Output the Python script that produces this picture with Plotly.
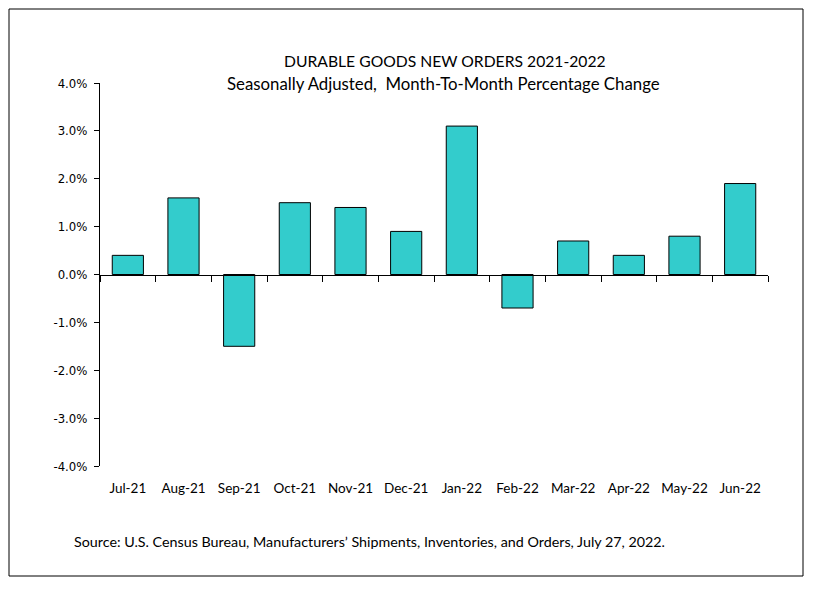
import plotly.graph_objects as go

months = ["Jul-21", "Aug-21", "Sep-21", "Oct-21", "Nov-21", "Dec-21",
          "Jan-22", "Feb-22", "Mar-22", "Apr-22", "May-22", "Jun-22"]
pct_change = [0.4, 1.6, -1.5, 1.5, 1.4, 0.9, 3.1, -0.7, 0.7, 0.4, 0.8, 1.9]
y_ticks = [-4, -3, -2, -1, 0, 1, 2, 3, 4]
y_tick_text = [f"{v:.1f}%" for v in y_ticks]

title1 = "DURABLE GOODS NEW ORDERS 2021-2022"
title2 = "Seasonally Adjusted,&nbsp; Month-To-Month Percentage Change"
source = "Source: U.S. Census Bureau, Manufacturers\u2019 Shipments, Inventories, and Orders, July 27, 2022."

FONT = "Lato"

fig = go.Figure()
fig.add_trace(go.Bar(
    x=months, y=pct_change, width=0.56,
    marker=dict(color="#33CCCC", line=dict(color="black", width=1)),
    hoverinfo="skip", showlegend=False,
))
# invisible trace to carry the zero-line axis
fig.add_trace(go.Scatter(x=months, y=[0]*len(months), xaxis="x2", mode="markers",
                         marker=dict(opacity=0), showlegend=False, hoverinfo="skip"))

L, R, T, B = 100, 46, 83, 124
W, H = 814, 590
pw, ph = W - L - R, H - T - B

fig.update_layout(
    width=W, height=H,
    margin=dict(l=L, r=R, t=T, b=B),
    paper_bgcolor="white", plot_bgcolor="white",
    showlegend=False,
    xaxis=dict(type="category", categoryorder="array", categoryarray=months,
               range=[-0.5, 11.5], showline=False, showgrid=False, zeroline=False,
               ticks="", ticklabelstandoff=12,
               tickfont=dict(family=FONT, size=13.5, color="black")),
    xaxis2=dict(type="category", categoryorder="array", categoryarray=months,
                range=[-0.5, 11.5], overlaying="x", anchor="free", position=0.5,
                showline=True, linecolor="black", linewidth=1,
                ticks="outside", ticklen=6, tickcolor="black", tickwidth=1,
                tickson="boundaries", showticklabels=False, showgrid=False, zeroline=False),
    yaxis=dict(range=[-4, 4], tickvals=y_ticks, ticktext=y_tick_text,
               showline=True, linecolor="black", linewidth=1,
               ticks="outside", ticklen=5, tickcolor="black", ticklabelstandoff=4,
               showgrid=False, zeroline=False,
               tickfont=dict(family="DejaVu Sans Condensed, DejaVu Sans", size=13, color="black")),
    shapes=[dict(type="rect", xref="paper", yref="paper",
                 x0=(9 - L) / pw, x1=(803 - L) / pw,
                 y0=(H - B - 576) / ph, y1=(H - B - 9) / ph,
                 line=dict(color="black", width=1), fillcolor="rgba(0,0,0,0)")],
    annotations=[
        dict(text=title1, xref="paper", yref="paper", x=(445 - L) / pw, y=(H - B - 61) / ph,
             showarrow=False, xanchor="center", yanchor="middle",
             font=dict(family=FONT, size=15.7, color="black")),
        dict(text=title2, xref="paper", yref="paper", x=(443 - L) / pw, y=(H - B - 83) / ph,
             showarrow=False, xanchor="center", yanchor="middle",
             font=dict(family=FONT, size=16.8, color="black")),
        dict(text=source, xref="paper", yref="paper", x=(72 - L) / pw, y=(H - B - 541) / ph,
             showarrow=False, xanchor="left", yanchor="middle",
             font=dict(family=FONT, size=14.3, color="black")),
    ],
)

fig.write_html("out.html", config={"displayModeBar": False},
               post_script="document.body.style.margin='0';")
